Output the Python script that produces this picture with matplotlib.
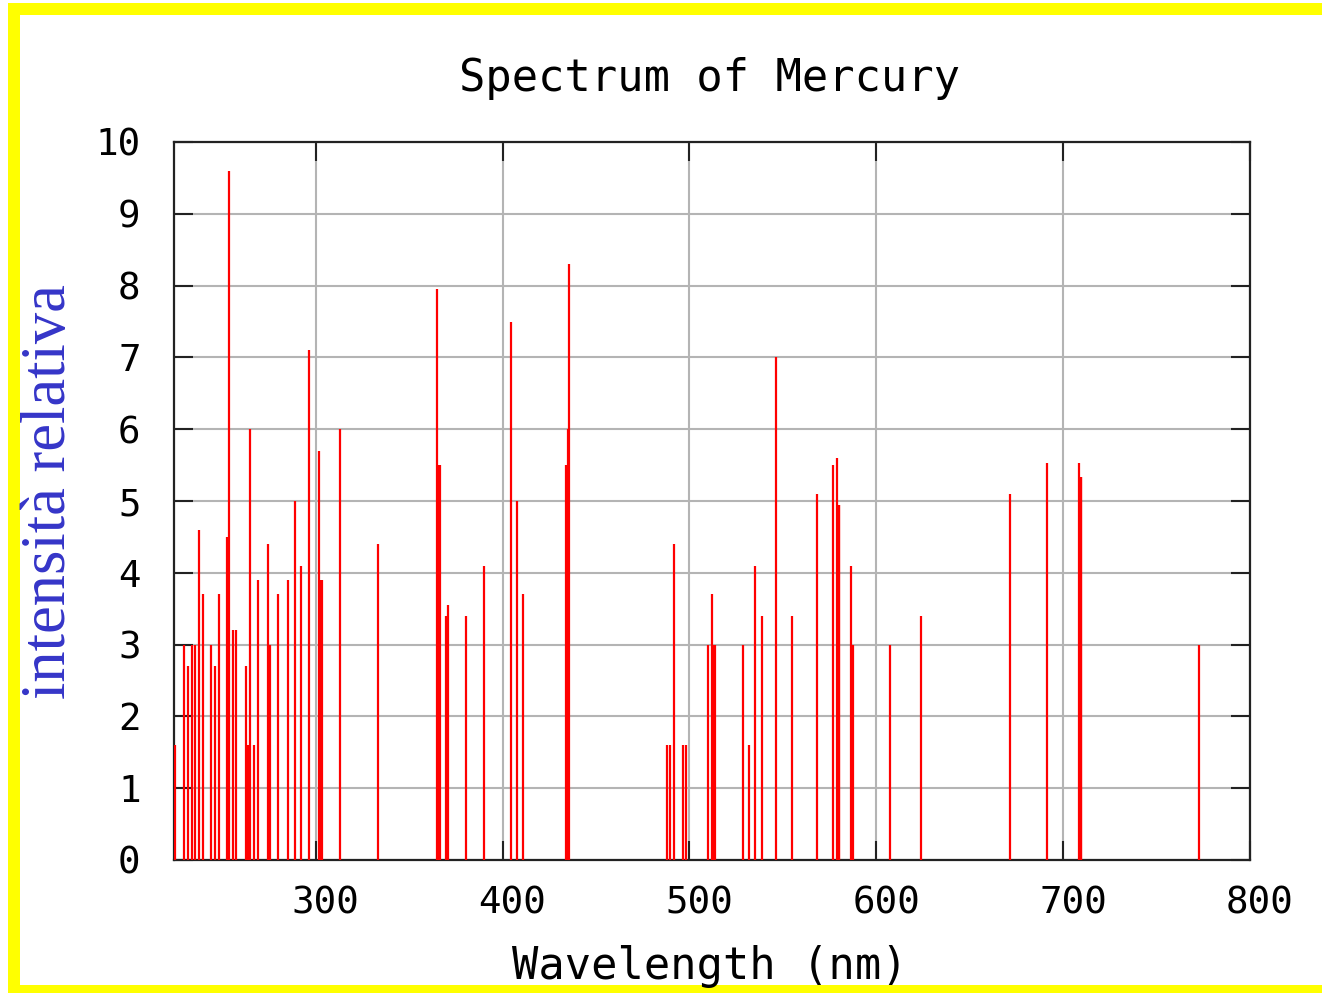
import matplotlib
matplotlib.use("Agg")
import matplotlib.pyplot as plt
import matplotlib.transforms as mtransforms
from matplotlib.patches import Rectangle

# Mercury emission lines: wavelength (nm) and relative intensity
wavelengths = [
    224.5, 229.6, 231.9, 234.0, 235.3, 237.4, 239.7, 244.0, 246.2, 248.5,
    252.8, 253.7, 256.0, 257.3, 262.6, 263.3, 264.0, 264.8, 267.0, 269.2,
    274.5, 275.6, 279.9, 285.4, 288.8, 292.2, 296.4, 301.8, 302.6, 303.2,
    312.8, 333.5, 365.0, 365.6, 366.3, 369.5, 370.6, 380.4, 390.2, 404.5,
    407.7, 410.9, 433.8, 434.4, 434.9, 435.8, 488.1, 489.6, 491.6, 496.7,
    498.2, 509.9, 512.3, 513.0, 513.6, 528.7, 532.1, 535.3, 538.7, 546.1,
    554.9, 568.1, 576.8, 579.0, 579.8, 580.3, 586.4, 587.2, 587.7, 607.2,
    623.7, 671.7, 691.3, 708.7, 709.3, 709.8, 772.9,
]
intensities = [
    1.6, 3.0, 2.7, 3.0, 3.0, 4.6, 3.7, 3.0, 2.7, 3.7,
    4.5, 9.6, 3.2, 3.2, 2.7, 1.6, 1.6, 6.0, 1.6, 3.9,
    4.4, 3.0, 3.7, 3.9, 5.0, 4.1, 7.1, 5.7, 3.9, 3.9,
    6.0, 4.4, 7.95, 5.5, 5.5, 3.4, 3.55, 3.4, 4.1, 7.5,
    5.0, 3.7, 5.5, 5.5, 6.0, 8.3, 1.6, 1.6, 4.4, 1.6,
    1.6, 3.0, 3.7, 3.0, 3.0, 3.0, 1.6, 4.1, 3.4, 7.0,
    3.4, 5.1, 5.5, 5.6, 4.95, 4.95, 4.1, 3.0, 3.0, 3.0,
    3.4, 5.1, 5.53, 5.53, 5.33, 5.33, 3.0,
]
x_ticks = [300, 400, 500, 600, 700, 800]
y_ticks = list(range(0, 11))

W, H = 1322, 994
fig = plt.figure(figsize=(W / 100, H / 100), dpi=100)
fig.patch.set_facecolor("white")

# yellow frame
yellow = "#ffff00"
for (x0, y0, w, h) in [(8, 3, W - 8, 12), (8, 3, 12, H - 8), (8, H - 9, W - 8, 8)]:
    fig.patches.append(Rectangle((x0 / W, 1 - (y0 + h) / H), w / W, h / H,
                                 transform=fig.transFigure, facecolor=yellow,
                                 edgecolor="none", zorder=0))

ax = fig.add_axes([174 / W, 1 - 860 / H, (1250 - 174) / W, (860 - 142) / H])
ax.set_xlim(224.2, 800)
ax.set_ylim(0, 10)

ax.vlines(wavelengths, 0, intensities, colors="#ff0000", linewidth=1.6, zorder=3)

mono = "DejaVu Sans Mono"
ax.set_xticks(x_ticks)
ax.set_yticks(y_ticks)
ax.set_xticklabels([str(v) for v in x_ticks], fontfamily=mono, fontsize=27)
ax.set_yticklabels([str(v) for v in y_ticks], fontfamily=mono, fontsize=27)
ax.tick_params(axis="both", direction="in", length=14, width=1.5, color="#222222",
               top=True, right=True)
ax.tick_params(axis="x", pad=18)
ax.tick_params(axis="y", pad=24)
shift = mtransforms.ScaledTranslation(10 / 100, 0, fig.dpi_scale_trans)
for lab in ax.get_xticklabels():
    lab.set_transform(lab.get_transform() + shift)

ax.grid(True, color="#b4b4b4", linewidth=1.5, zorder=1)
ax.set_axisbelow(True)
for sp in ax.spines.values():
    sp.set_linewidth(1.6)
    sp.set_color("#222222")

fig.text(710 / W, 1 - 78 / H, "Spectrum of Mercury", fontfamily=mono, fontsize=31.5,
         ha="center", va="center")
fig.text(710 / W, 1 - 966 / H, "Wavelength (nm)", fontfamily=mono, fontsize=31.5,
         ha="center", va="center")
fig.text(50 / W, 1 - 492 / H, "intensità relativa", fontfamily="Liberation Serif",
         fontsize=45, color="#3535c8", rotation=90, ha="center", va="center")

fig.savefig("out.png", dpi=100, facecolor="white")
